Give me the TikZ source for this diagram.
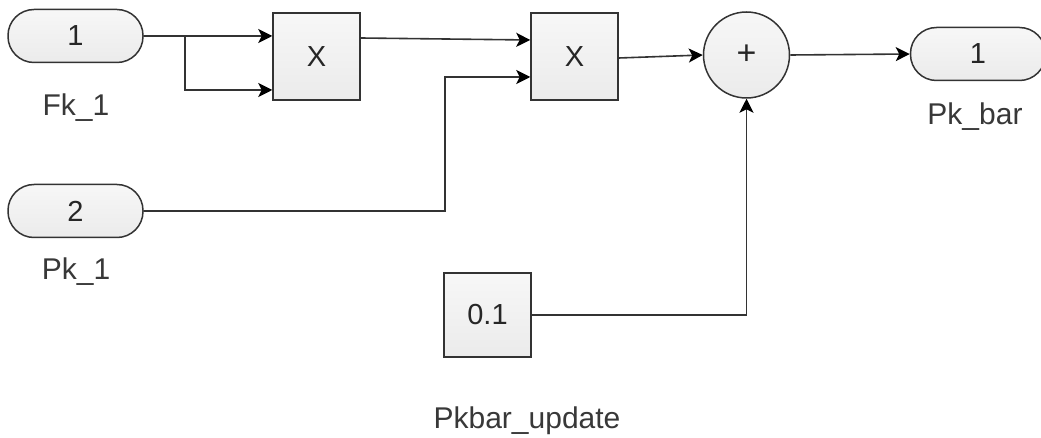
\documentclass[tikz,border=0pt]{standalone}
\usepackage{fontspec}
\setmainfont{Liberation Sans}
\usetikzlibrary{arrows.meta,calc}
\definecolor{wire}{HTML}{333333}
\definecolor{blkfill}{HTML}{EBEBEB}
\begin{document}
\begin{tikzpicture}[x=1pt,y=-1pt,
  blk/.style={draw=wire,line width=1.5pt,top color=white!60!blkfill,bottom color=blkfill,
    text=black!85,font=\fontsize{29}{32}\selectfont,inner sep=0pt},
  port/.style={blk,minimum width=135pt,minimum height=53pt,rounded corners=26pt},
  sq/.style={blk,minimum width=87pt,minimum height=87pt},
  sumblk/.style={blk,circle,minimum size=86pt,font=\fontsize{34}{36}\selectfont},
  lbl/.style={text=black!78,font=\fontsize{30}{32}\selectfont,inner sep=0pt},
  wirestyle/.style={draw=wire,line width=1.6pt},
  arr/.style={wirestyle,-{Stealth[length=14pt,width=14pt,inset=3.5pt,color=black]}}]
\useasboundingbox (0,0) rectangle (1041,438);

% blocks
\node[port] (in1) at (75.5,36) {1};
\node[lbl] (in1l) at (76,108) {Fk\_1};
\node[port] (in2) at (75.5,211) {2};
\node[lbl] (in2l) at (76,272) {Pk\_1};
\node[sq] (p1) at (316.5,56.5) {X};
\node[sq] (p2) at (574.5,56.5) {X};
\node[sumblk] (sum) at (746.5,55) {+};
\node[port] (out) at (978,54) {1};
\node[lbl] (outl) at (975,117) {Pk\_bar};
\node[sq,minimum height=84pt] (k) at (487.5,315) {0.1};
\node[lbl] (kl) at (527,421) {Pkbar\_update};

% port positions
\coordinate (br) at (185,36);
\coordinate (p1a) at (p1.west |- 0,36);
\coordinate (p1b) at (p1.west |- 0,90);
\coordinate (p1o) at (p1.east |- 0,38);
\coordinate (p2a) at (p2.west |- 0,40);
\coordinate (p2b) at (p2.west |- 0,77);
\coordinate (p2o) at (p2.east |- 0,58);
\coordinate (sa) at (sum.west |- 0,55);
\coordinate (rt) at (445,211);

% wires
\draw[arr] (in1.east |- br) -- (p1a);
\draw[arr] (br) |- (p1b);
\draw[arr] (p1o) -- (p2a);
\draw[arr] (in2.east) -- (rt) |- (p2b);
\draw[arr] (p2o) -- (sa);
\draw[arr] (sum.east) -- (out.west);
\draw[arr] (k.east) -| (sum.south);
\end{tikzpicture}
\end{document}
